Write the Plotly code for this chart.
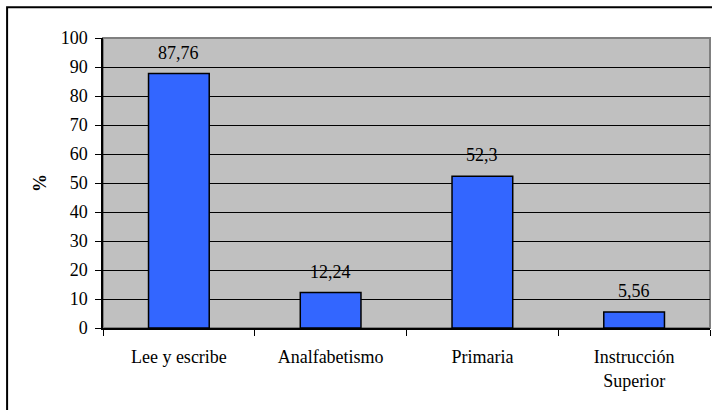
import plotly.graph_objects as go

# Nivel de instrucción (%)
categorias = ["Lee y escribe", "Analfabetismo", "Primaria", "Instrucción<br>Superior"]
porcentajes = [87.76, 12.24, 52.3, 5.56]
y_ticks = list(range(0, 101, 10))

FONT = "Times New Roman"

etiquetas = [str(v).replace(".", ",") for v in porcentajes]

fig = go.Figure(
    go.Bar(
        x=categorias,
        y=porcentajes,
        marker=dict(color="#3366FF", line=dict(color="black", width=1.5)),
        width=0.4,
        hoverinfo="skip",
    )
)

for c, v, t in zip(categorias, porcentajes, etiquetas):
    fig.add_annotation(
        x=c, y=v, text=t, showarrow=False, yanchor="bottom", yshift=9,
        font=dict(family=FONT, size=18, color="black"),
    )

# plot-area border (top/right in gray) and outer frame
fig.add_shape(type="rect", xref="paper", yref="paper", x0=0, x1=1, y0=0, y1=1,
              line=dict(color="#808080", width=2), layer="below")
fig.add_shape(type="rect", xref="paper", yref="paper", x0=-0.158, x1=1.06,
              y0=-0.4, y1=1.106, line=dict(color="black", width=2))

fig.update_layout(
    width=712, height=410,
    margin=dict(l=103, r=2, t=38, b=82),
    paper_bgcolor="white",
    plot_bgcolor="#C0C0C0",
    showlegend=False,
    font=dict(family=FONT, size=18, color="black"),
    bargap=0.6,
)
fig.update_xaxes(
    showline=True, linecolor="black", linewidth=1.5,
    ticks="outside", ticklen=6, tickcolor="black", tickson="boundaries",
    showgrid=False, ticklabelstandoff=12,
    tickfont=dict(family=FONT, size=18),
)
fig.update_yaxes(
    range=[0, 100], tickvals=y_ticks,
    showline=True, linecolor="black", linewidth=1.5,
    ticks="outside", ticklen=6, tickcolor="black",
    showgrid=True, gridcolor="black", gridwidth=1,
    zeroline=False, ticklabelstandoff=4,
    tickfont=dict(family=FONT, size=18),
    title=dict(text="<b>%</b>", font=dict(family=FONT, size=18), standoff=9),
)

fig.write_html("out.html")
